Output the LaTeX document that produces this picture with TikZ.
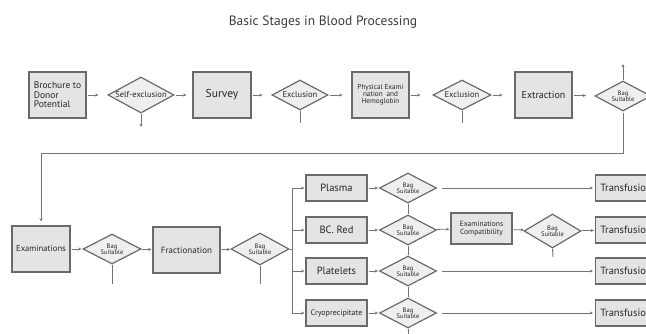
\documentclass[tikz,border=0pt]{standalone}
\usepackage{fontspec}
\setmainfont{PT Sans}
\usetikzlibrary{shapes.geometric,arrows.meta}
\definecolor{lc}{HTML}{747474}
\definecolor{bc}{HTML}{6A6A6A}
\definecolor{bf}{HTML}{E4E4E4}
\definecolor{df}{HTML}{EFEFEF}
\definecolor{tc}{HTML}{262626}
\newcommand\myfs[1]{\fontsize{#1}{#1}\selectfont}
\tikzset{
  box/.style={draw=bc, fill=bf, line width=1.2pt, inner sep=1pt, align=center, text=tc},
  dia/.style={diamond, draw=bc, fill=df, line width=1.2pt, inner sep=0pt},
  dtext/.style={text=tc, align=center, inner sep=0pt},
  arr/.style={draw=lc, line width=0.8pt, -{Stealth[length=3.2pt,width=3pt]}, shorten <=1.5pt, shorten >=9pt},
  arrt/.style={draw=lc, line width=0.8pt, -{Stealth[length=3.2pt,width=3pt]}, shorten <=1pt, shorten >=1pt},
  ln/.style={draw=lc, line width=0.9pt},
  bag/.style={dia, minimum width=57pt, minimum height=30pt,
    label={[dtext, font=\myfs{6.5}]center:Bag\\Suitable}},
  cbox/.style={box, minimum width=61pt, minimum height=26pt},
}
\begin{document}
\begin{tikzpicture}[x=1pt,y=-1pt]
\path[use as bounding box] (0,0) rectangle (646,333);
\clip (0,0) rectangle (646,333);
\fill[white] (0,0) rectangle (646,333);

\node[text=tc!90!white, font=\myfs{13.5}] (title) at (323,22) {Basic Stages in Blood Processing};

% Row 1
\node[box, minimum width=57pt, minimum height=46pt, align=left, font=\myfs{9.5}] (broch) at (57.5,95) {Brochure to\\Donor\\Potential};
\node[dia, minimum width=66pt, minimum height=36pt,
  label={[dtext, font=\myfs{8.5}]center:Self-exclusion}] (sx) at (141,95) {};
\node[box, minimum width=58pt, minimum height=46pt, font=\myfs{11.5}] (survey) at (222,95) {Survey};
\node[dia, minimum width=56pt, minimum height=30pt,
  label={[dtext, font=\myfs{8.5}]center:Exclusion}] (ex1) at (300,95) {};
\node[box, minimum width=57pt, minimum height=46pt, font=\myfs{7.2}] (phys) at (380.5,95) {Physical Exami\\nation\ \ and\\Hemoglobin};
\node[dia, minimum width=58pt, minimum height=30pt,
  label={[dtext, font=\myfs{8.5}]center:Exclusion}] (ex2) at (462,95) {};
\node[box, minimum width=57pt, minimum height=46pt, font=\myfs{10}] (extr) at (543.5,95) {Extraction};
\node[bag, minimum width=56pt] (bag0) at (623,96) {};

\draw[arr] (broch) -- (sx);
\draw[arr, shorten >=6pt] (sx) -- (survey);
\draw[arr] (survey) -- (ex1);
\draw[arr] (ex1) -- (phys);
\draw[arr, shorten >=12pt] (phys) -- (ex2);
\draw[arr, shorten >=12pt] (ex2) -- (extr);
\draw[arr] (extr) -- (bag0);

\coordinate (s1) at (141,128);
\coordinate (s2) at (300,123);
\coordinate (s3) at (462,123);
\coordinate (s0) at (623,63);
\draw[arrt, shorten <=0pt] (sx.south) -- (s1);
\draw[ln] (ex1.south) -- (s2);
\draw[ln] (ex2.south) -- (s3);
\draw[arrt, shorten <=0pt] (bag0.north) -- (s0);

% Row 2
\node[box, minimum width=58pt, minimum height=46pt, font=\myfs{8.6}] (exam) at (41,249) {Examinations};
\node[bag, minimum width=58pt] (bag1) at (112,249) {};
\node[box, minimum width=67pt, minimum height=46pt, font=\myfs{9}] (frac) at (186.5,250) {Fractionation};
\node[bag, minimum width=58pt, minimum height=32pt] (bag2) at (260,249) {};

\coordinate (turn) at (623,153);
\draw[arrt, shorten >=4pt] (bag0.south) -- (turn) -| (exam.north);

\draw[arrt] (exam) -- (bag1);
\draw[arrt] (bag1) -- (frac);
\draw[arrt] (frac) -- (bag2);

\coordinate (s4) at (112,284);
\coordinate (s5) at (260,284);
\draw[ln] (bag1.south) -- (s4);
\draw[ln] (bag2.south) -- (s5);

% Components column
\node[cbox, font=\myfs{10.5}] (plasma) at (336.5,188) {Plasma};
\node[cbox, font=\myfs{10.5}] (bcred) at (336.5,230) {BC. Red};
\node[cbox, font=\myfs{10.5}] (plate) at (336.5,271) {Platelets};
\node[cbox, font=\myfs{8}] (cryo) at (336.5,313) {Cryoprecipitate};

\coordinate (bm) at (292,249);
\draw[arrt, shorten <=0pt] (bag2.east) -- (bm) |- (plasma.west);
\draw[arrt, shorten <=0pt] (bag2.east) -- (bm) |- (bcred.west);
\draw[arrt, shorten <=0pt] (bag2.east) -- (bm) |- (plate.west);
\draw[arrt, shorten <=0pt] (bag2.east) -- (bm) |- (cryo.west);

\node[bag] (bp) at (408,188) {};
\node[bag] (bb) at (408,230) {};
\node[bag] (bl) at (408,271) {};
\node[bag] (bk) at (408,313) {};

\draw[arrt] (plasma) -- (bp);
\draw[arrt] (bcred) -- (bb);
\draw[arrt] (plate) -- (bl);
\draw[arrt] (cryo) -- (bk);

\coordinate (s6) at (408,340);
\draw[ln] (bp.south) -- (bb.north);
\draw[ln] (bb.south) -- (bl.north);
\draw[ln] (bl.south) -- (bk.north);
\draw[ln] (bk.south) -- (s6);

\node[box, minimum width=61pt, minimum height=31pt, font=\myfs{7.5}] (compat) at (481.5,228.5) {Examinations\\Compatibility};
\node[bag, minimum height=34pt] (bc) at (552.5,231) {};
\coordinate (s7) at (553,257);
\draw[ln] (bc.south) -- (s7);

\node[cbox, font=\myfs{10.5}, anchor=west] (t1) at (595,188) {Transfusion};
\node[cbox, font=\myfs{10.5}, anchor=west] (t2) at (595,230) {Transfusion};
\node[cbox, font=\myfs{10.5}, anchor=west] (t3) at (595,271) {Transfusion};
\node[cbox, font=\myfs{10.5}, anchor=west] (t4) at (595,313) {Transfusion};

\draw[arrt] (bb) -- (compat);
\draw[arrt] (compat) -- (bc);
\draw[arrt] (bc) -- (t2);
\draw[arrt, shorten <=5pt, shorten >=2pt] (bp) -- (t1);
\draw[arrt, shorten <=5pt, shorten >=2pt] (bl) -- (t3);
\draw[arrt, shorten <=5pt, shorten >=2pt] (bk) -- (t4);
\end{tikzpicture}
\end{document}
